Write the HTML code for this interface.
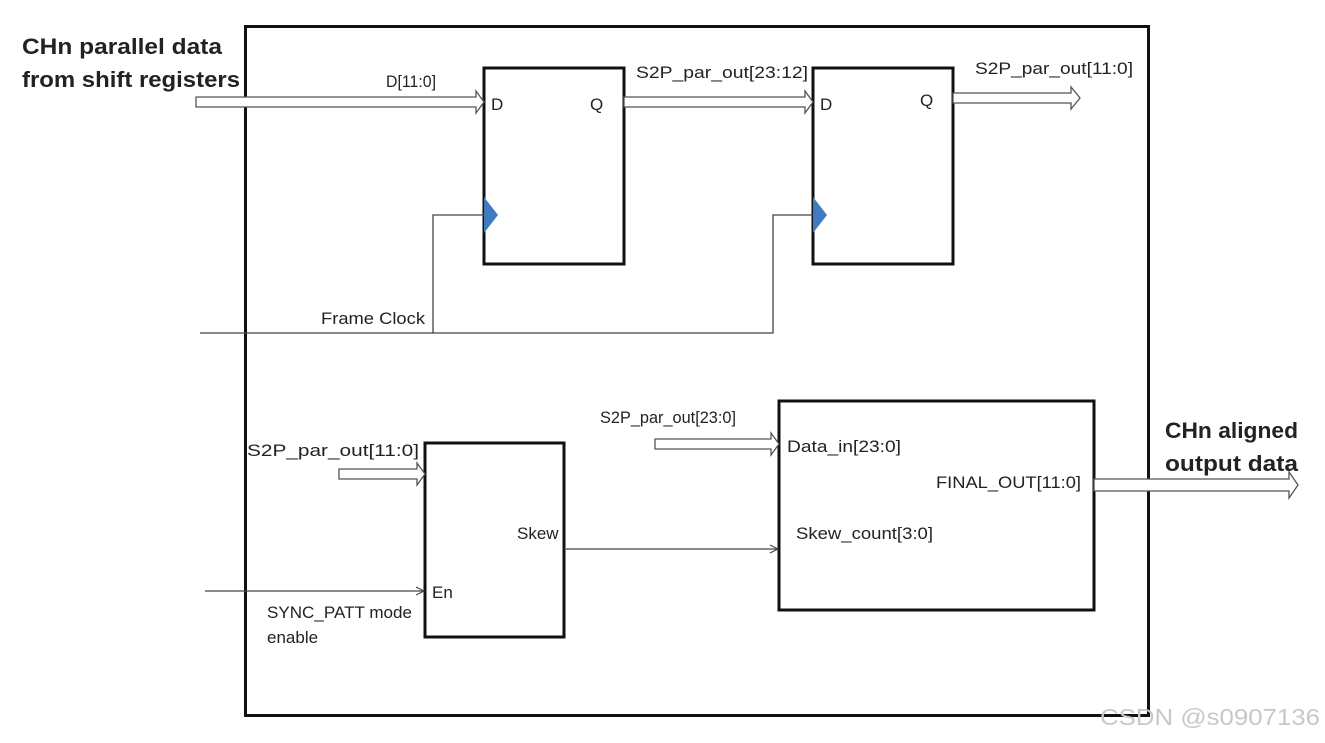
<!DOCTYPE html>
<html><head><style>
body{margin:0;background:#fff;}
svg text{font-family:"Liberation Sans",sans-serif;fill:#222;}
</style></head><body>
<svg width="1325" height="738" viewBox="0 0 1325 738" xmlns="http://www.w3.org/2000/svg">
<defs>
<marker id="a" markerWidth="10" markerHeight="10" refX="9" refY="5" orient="auto" markerUnits="userSpaceOnUse"><path d="M1,1 L9,5 L1,9" fill="none" stroke="#444" stroke-width="1.2"/></marker>
</defs>
<rect x="245.5" y="26.5" width="903" height="689" fill="none" stroke="#111" stroke-width="3"/>
<g fill="none" stroke="#111" stroke-width="3">
<rect x="484" y="68" width="140" height="196"/>
<rect x="813" y="68" width="140" height="196"/>
<rect x="779" y="401" width="315" height="209"/>
<rect x="425" y="443" width="139" height="194"/>
</g>
<polygon points="484,197 498,215 484,233" fill="#3f7bbf"/>
<polygon points="813,197 827,215 813,233" fill="#3f7bbf"/>
<g fill="#fff" stroke="#555" stroke-width="1.3">
<path d="M196,97 H476 V91 L484,102 L476,113 V107 H196 Z"/>
<path d="M624,97 H805 V91 L813,102 L805,113 V107 H624 Z"/>
<path d="M953,93 H1071 V87 L1080,98 L1071,109 V103 H953 Z"/>
<path d="M339,469 H417 V463 L425,474 L417,485 V479 H339 Z"/>
<path d="M655,439 H771 V433 L779,444 L771,455 V449 H655 Z"/>
<path d="M1094,479 H1289 V472 L1298,485 L1289,498 V491 H1094 Z"/>
</g>
<g fill="none" stroke="#444" stroke-width="1.3">
<path d="M200,333 H773 V215 H813"/>
<path d="M433,333 V215 H484"/>
<path d="M564,549 H778" marker-end="url(#a)"/>
<path d="M205,591 H424" marker-end="url(#a)"/>
</g>
<g font-weight="bold">
<text x="22" y="54" font-size="22" fill="#111" textLength="200" lengthAdjust="spacingAndGlyphs">CHn  parallel data</text>
<text x="22" y="87" font-size="22" fill="#111" textLength="218" lengthAdjust="spacingAndGlyphs">from shift registers</text>
<text x="1165" y="438" font-size="22" fill="#111" textLength="133" lengthAdjust="spacingAndGlyphs">CHn aligned</text>
<text x="1165" y="471" font-size="22" fill="#111" textLength="133" lengthAdjust="spacingAndGlyphs">output data</text>
</g>
<g font-size="17">
<text x="386" y="87" textLength="50" lengthAdjust="spacingAndGlyphs">D[11:0]</text>
<text x="491" y="110">D</text>
<text x="590" y="110">Q</text>
<text x="636" y="78" textLength="172" lengthAdjust="spacingAndGlyphs">S2P_par_out[23:12]</text>
<text x="820" y="110">D</text>
<text x="920" y="106">Q</text>
<text x="975" y="74" textLength="158" lengthAdjust="spacingAndGlyphs">S2P_par_out[11:0]</text>
<text x="321" y="324" textLength="104" lengthAdjust="spacingAndGlyphs">Frame Clock</text>
<text x="600" y="423" textLength="136" lengthAdjust="spacingAndGlyphs">S2P_par_out[23:0]</text>
<text x="247" y="456" textLength="172" lengthAdjust="spacingAndGlyphs">S2P_par_out[11:0]</text>
<text x="787" y="452" textLength="114" lengthAdjust="spacingAndGlyphs">Data_in[23:0]</text>
<text x="936" y="488" textLength="145" lengthAdjust="spacingAndGlyphs">FINAL_OUT[11:0]</text>
<text x="796" y="539" textLength="137" lengthAdjust="spacingAndGlyphs">Skew_count[3:0]</text>
<text x="517" y="539">Skew</text>
<text x="432" y="598">En</text>
<text x="267" y="618" textLength="145" lengthAdjust="spacingAndGlyphs">SYNC_PATT mode</text>
<text x="267" y="643">enable</text>
</g>
<text x="1100" y="725" font-size="23" style="fill:#c8c8c8" textLength="220" lengthAdjust="spacingAndGlyphs">CSDN @s0907136</text>
</svg>
</body></html>
